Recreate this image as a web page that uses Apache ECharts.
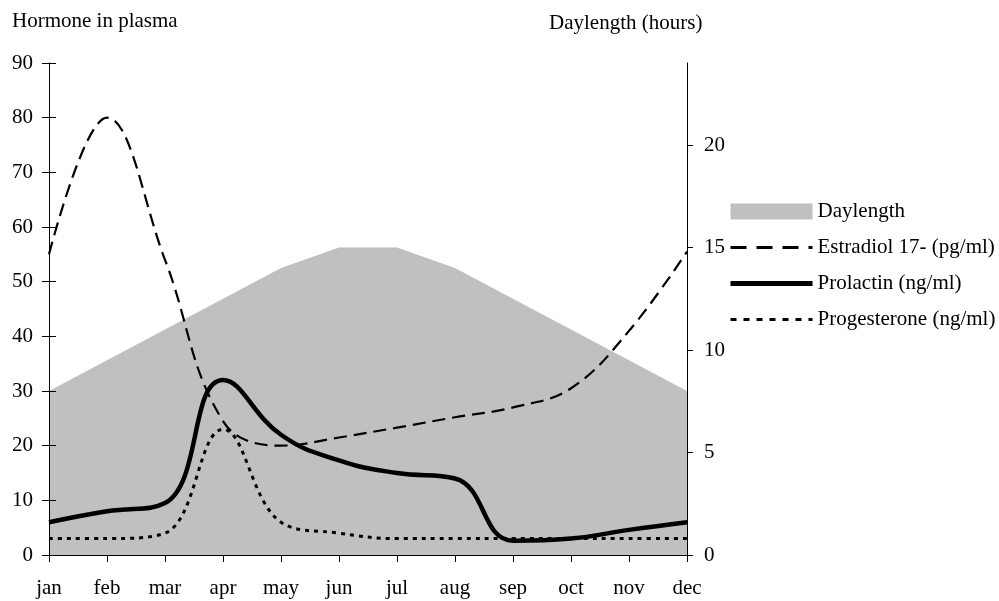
<!DOCTYPE html>
<html>
<head>
<meta charset="utf-8">
<script src="https://cdn.jsdelivr.net/npm/echarts@6/dist/echarts.min.js"></script>
<style>
html,body{margin:0;padding:0;background:#fff;}
#chart{width:999px;height:601px;}
</style>
</head>
<body>
<div id="chart"></div>
<script>
const months = ['jan','feb','mar','apr','may','jun','jul','aug','sep','oct','nov','dec'];
const daylength = [8, 9.5, 11, 12.5, 14, 15, 15, 14, 12.5, 11, 9.5, 8];
const estradiol = [55, 80, 54, 24.5, 20, 21.5, 23.3, 25.2, 27, 30.5, 41, 55.5];
const prolactin = [6, 8, 9.5, 32, 22, 17.3, 15, 14, 2.6, 3, 4.6, 6];
const progesterone = [3, 3, 4, 23, 6, 4, 3, 3, 3, 3, 3, 3];
const rightTicks = [0, 5, 10, 15, 20];
const seriesNames = ['Daylength', 'Estradiol 17- (pg/ml)', 'Prolactin (ng/ml)', 'Progesterone (ng/ml)'];
const titleLeft = 'Hormone in plasma';
const titleRight = 'Daylength (hours)';

const FONT = 'Liberation Serif';
const chart = echarts.init(document.getElementById('chart'), null, {renderer: 'canvas'});
const txt = {color: '#000', fontFamily: FONT, fontSize: 21};
const hideSym = {opacity: 0, color: 'rgba(0,0,0,0)', borderWidth: 0};

chart.setOption({
  animation: false,
  backgroundColor: '#fff',
  title: [
    {text: titleLeft, left: 12, top: 9, padding: 0, textStyle: Object.assign({fontWeight: 'normal', lineHeight: 24}, txt)},
    {text: titleRight, left: 549, top: 11, padding: 0, textStyle: Object.assign({fontWeight: 'normal', lineHeight: 24}, txt)}
  ],
  legend: {
    orient: 'vertical', left: 728, top: 201, padding: 0,
    itemWidth: 82, itemHeight: 16, itemGap: 15, selectedMode: false,
    textStyle: Object.assign({lineHeight: 21}, txt),
    data: [
      {name: seriesNames[0], icon: 'rect', itemStyle: {color: '#c0c0c0', borderWidth: 0}},
      {name: seriesNames[1], itemStyle: hideSym, lineStyle: {width: 3, color: '#000', type: [16, 10]}},
      {name: seriesNames[2], itemStyle: hideSym, lineStyle: {width: 5, color: '#000', type: 'solid'}},
      {name: seriesNames[3], itemStyle: hideSym, lineStyle: {width: 3, color: '#000', type: [6, 7]}}
    ]
  },
  grid: {left: 49, right: 312, top: 63, bottom: 46, containLabel: false},
  xAxis: [
    {
      type: 'category', data: months, boundaryGap: false, z: 10,
      axisLine: {lineStyle: {color: '#666', width: 1}},
      axisTick: {show: true, length: 7, lineStyle: {color: '#000'}},
      axisLabel: Object.assign({margin: 23}, txt),
      splitLine: {show: false}
    },
    {
      type: 'category', data: months, boundaryGap: false, position: 'top', z: 10,
      axisLine: {lineStyle: {color: '#000', width: 1}},
      axisTick: {show: false}, axisLabel: {show: false}, splitLine: {show: false}
    }
  ],
  yAxis: [
    {
      type: 'value', min: 0, max: 90, interval: 10, position: 'left', z: 10,
      axisLine: {show: true, lineStyle: {color: '#000'}},
      axisTick: {show: true, length: 7, lineStyle: {color: '#000'}},
      axisLabel: Object.assign({margin: 16}, txt),
      splitLine: {show: false}
    },
    {
      type: 'value', min: 0, max: 24, interval: 5, position: 'right', z: 10,
      axisLine: {show: true, lineStyle: {color: '#000'}},
      axisTick: {show: true, length: 6, customValues: rightTicks, lineStyle: {color: '#000'}},
      axisLabel: Object.assign({margin: 17, customValues: rightTicks}, txt),
      splitLine: {show: false}
    },
    {
      type: 'value', min: 0, max: 90, interval: 10, position: 'left', z: 10,
      axisLine: {show: false},
      axisTick: {show: true, inside: true, length: 7, lineStyle: {color: '#000'}},
      axisLabel: {show: false},
      splitLine: {show: false}
    }
  ],
  series: [
    {
      name: seriesNames[0], type: 'line', yAxisIndex: 1, data: daylength,
      symbol: 'none', smooth: false, z: 1,
      lineStyle: {width: 0, color: '#c0c0c0'},
      itemStyle: {color: '#c0c0c0'},
      areaStyle: {color: '#c0c0c0', opacity: 1}
    },
    {
      name: seriesNames[1], type: 'line', yAxisIndex: 0, data: estradiol,
      symbol: 'none', smooth: 0.4, z: 3,
      itemStyle: {color: '#000'},
      lineStyle: {width: 2.2, color: '#000', type: [13, 7]}
    },
    {
      name: seriesNames[2], type: 'line', yAxisIndex: 0, data: prolactin,
      symbol: 'none', smooth: 0.45, z: 4,
      itemStyle: {color: '#000'},
      lineStyle: {width: 4.5, color: '#000'}
    },
    {
      name: seriesNames[3], type: 'line', yAxisIndex: 0, data: progesterone,
      symbol: 'none', smooth: 0.4, z: 3,
      itemStyle: {color: '#000'},
      lineStyle: {width: 3, color: '#000', type: [4, 5]}
    }
  ]
});
</script>
</body>
</html>
